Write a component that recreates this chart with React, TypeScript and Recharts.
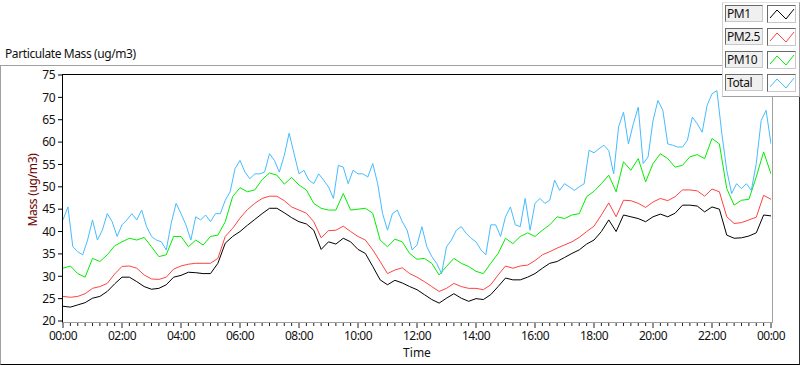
import React from "react";
import { LineChart, Line, XAxis, YAxis } from "recharts";

// 15 minute samples, 00:00 .. 24:00
const pm1 = [
  23.3, 23.1, 23.6, 24.1, 25.1, 25.5, 26.6, 28.3, 29.8, 29.8, 28.8, 27.7, 27.1,
  27.3, 28.1, 29.8, 30.2, 30.9, 30.8, 30.6, 30.6, 32.9, 37.4, 38.9, 40.0,
  41.4, 42.7, 44.0, 45.2, 45.2, 44.2, 43.1, 42.2, 41.7, 40.3, 36.0, 37.7,
  37.2, 38.5, 37.7, 36.0, 35.1, 32.2, 29.2, 28.1, 29.1, 28.5, 27.7, 27.0,
  25.9, 24.8, 24.0, 25.1, 26.1, 25.1, 24.4, 25.0, 24.8, 25.9, 27.7, 29.6,
  29.2, 29.2, 29.8, 30.6, 31.8, 32.9, 33.3, 34.2, 35.1, 35.9, 37.2, 38.1,
  40.0, 42.6, 40.0, 43.7, 43.3, 42.9, 42.2, 43.3, 43.9, 43.3, 44.1, 45.9,
  45.9, 45.7, 44.4, 45.5, 45.0, 39.2, 38.5, 38.6, 39.0, 39.7, 43.7, 43.5,
];

const pm25 = [
  25.5, 25.3, 25.5, 26.1, 27.3, 27.7, 28.4, 30.5, 32.2, 32.3, 31.8, 30.3, 29.4,
  29.3, 29.8, 31.6, 32.3, 32.7, 32.9, 32.9, 32.9, 34.0, 38.9, 40.7, 43.0,
  44.9, 46.3, 47.4, 47.9, 47.9, 46.9, 45.5, 44.8, 44.1, 42.2, 38.6, 40.2,
  40.3, 41.2, 40.0, 38.9, 38.1, 35.9, 33.3, 30.6, 31.4, 31.9, 30.6, 29.8,
  28.8, 27.7, 26.6, 27.3, 28.4, 27.7, 27.3, 27.3, 27.0, 28.1, 30.3, 32.3,
  31.8, 32.3, 32.5, 33.5, 34.8, 35.5, 36.3, 37.0, 37.7, 38.7, 40.0, 41.2,
  43.7, 46.4, 43.3, 47.0, 46.9, 46.3, 45.4, 46.6, 47.4, 46.9, 47.8, 49.3,
  49.3, 49.1, 47.9, 49.5, 48.9, 43.3, 41.8, 42.0, 42.6, 43.2, 48.1, 47.2,
];

const pm10 = [
  31.8, 32.3, 30.6, 29.8, 34.0, 33.3, 34.8, 36.8, 37.7, 38.5, 38.1, 38.7, 36.6,
  34.4, 34.8, 38.9, 38.9, 36.6, 38.1, 37.0, 38.9, 39.2, 42.2, 47.8, 49.8,
  48.9, 49.3, 51.6, 53.1, 52.6, 50.6, 52.1, 50.4, 49.3, 46.3, 45.2, 44.8,
  44.8, 48.5, 44.8, 45.0, 45.2, 44.1, 38.1, 36.6, 38.3, 37.7, 35.1, 33.8,
  34.0, 32.9, 30.3, 32.2, 34.0, 32.9, 32.2, 31.1, 30.6, 32.9, 35.1, 38.5,
  37.3, 38.9, 39.7, 38.9, 40.3, 41.5, 43.3, 42.9, 43.7, 44.0, 47.8, 49.0,
  50.7, 52.6, 48.9, 55.6, 53.7, 56.3, 51.1, 55.2, 57.4, 56.3, 54.4, 54.8,
  56.7, 57.2, 56.3, 60.8, 59.6, 49.6, 45.9, 47.0, 47.2, 52.2, 57.8, 52.9,
];

// 10 minute samples, 00:00 .. 24:00
const total = [
  42.6, 45.5, 36.6, 35.5, 34.8, 38.1, 42.6, 38.1, 40.3, 44.0, 42.2, 38.9,
  41.5, 42.6, 44.0, 42.6, 44.8, 41.1, 38.9, 38.1, 37.7, 35.9, 41.8, 46.3,
  44.0, 41.5, 38.1, 43.3, 42.6, 43.7, 42.2, 44.0, 44.0, 47.0, 48.9, 54.1, 55.9,
  53.3, 51.8, 52.9, 52.9, 53.3, 57.4, 55.9, 53.3, 57.0, 62.0, 57.4, 52.9,
  53.7, 51.5, 50.7, 52.9, 51.5, 50.0, 47.4, 54.8, 54.4, 50.7, 53.7, 52.9,
  52.9, 52.2, 55.2, 50.7, 44.0, 40.3, 44.0, 44.8, 42.2, 40.3, 35.9, 37.0,
  41.1, 36.6, 34.4, 32.9, 30.6, 36.6, 38.1, 40.3, 41.1, 39.6, 38.5, 37.7,
  35.9, 34.8, 41.5, 41.5, 38.9, 43.3, 45.5, 41.5, 41.1, 47.4, 40.3, 46.3,
  47.4, 46.3, 47.0, 51.5, 49.2, 50.7, 50.0, 49.2, 50.0, 50.7, 58.2, 57.6,
  58.5, 59.3, 58.1, 52.9, 63.4, 66.7, 59.6, 64.1, 67.8, 55.2, 56.7, 64.8,
  69.3, 67.1, 59.6, 59.3, 58.9, 58.9, 60.4, 65.6, 64.1, 62.2, 68.2, 70.8,
  71.5, 61.9, 53.7, 48.5, 50.7, 49.6, 50.7, 49.2, 55.2, 64.8, 67.1, 59.6,
];

const majorHours = [0, 2, 4, 6, 8, 10, 12, 14, 16, 18, 20, 22, 24];
const timeLabels = [
  "00:00", "02:00", "04:00", "06:00", "08:00", "10:00", "12:00",
  "14:00", "16:00", "18:00", "20:00", "22:00", "00:00",
];
const massTicks = [20, 25, 30, 35, 40, 45, 50, 55, 60, 65, 70, 75];

const seriesNames = ["PM1", "PM2.5", "PM10", "Total"];
const seriesColors = ["#000000", "#ff4242", "#00ee00", "#45bcff"];

const rows = pm1.map((v, i) => ({
  t: i * 0.25,
  pm1: v,
  pm25: pm25[i],
  pm10: pm10[i],
}));
const totalRows = total.map((v, i) => ({ t: i / 6, total: v }));
const quarterTicks = rows.map((r) => r.t);

const font = "'Noto Sans', sans-serif";

const TimeTick = (props: any) => {
  const { x, y, payload } = props;
  const idx = majorHours.indexOf(payload.value);
  const major = idx >= 0;
  return (
    <g>
      <line x1={x} x2={x} y1={y + 1} y2={y + (major ? 7 : 5)} stroke="#222" />
      {major && (
        <text
          x={x}
          y={y + 19}
          textAnchor="middle"
          fontSize={12}
          fontFamily={font}
          letterSpacing={-0.5}
          fill="#111"
        >
          {timeLabels[idx]}
        </text>
      )}
    </g>
  );
};

const LegendPanel = () => (
  <div
    style={{
      position: "absolute",
      left: 722,
      top: 2,
      width: 78,
      height: 95,
      boxSizing: "border-box",
      background: "#fff",
      borderTop: "1px solid #e4e4e4",
      borderLeft: "1px solid #d0d0d0",
      borderBottom: "1px solid #a0a0a0",
      borderRight: "1px solid #a0a0a0",
    }}
  >
    {seriesNames.map((name, i) => (
      <React.Fragment key={name}>
        <div
          style={{
            position: "absolute",
            left: 2,
            top: 2 + i * 23,
            width: 38,
            height: 17,
            boxSizing: "border-box",
            background: "#f0f0f0",
            borderTop: "1px solid #6a6a6a",
            borderLeft: "1px solid #6a6a6a",
            borderBottom: "1px solid #c8c8c8",
            borderRight: "1px solid #c8c8c8",
            fontFamily: font,
            fontSize: 12,
            letterSpacing: -0.4,
            lineHeight: "15px",
            paddingLeft: 1,
            color: "#111",
            whiteSpace: "nowrap",
            overflow: "hidden",
          }}
        >
          {name}
        </div>
        <div
          style={{
            position: "absolute",
            left: 44,
            top: 2 + i * 23,
            width: 29,
            height: 18,
            boxSizing: "border-box",
            background: "#fff",
            borderTop: "1px solid #6a6a6a",
            borderLeft: "1px solid #6a6a6a",
            borderBottom: "1px solid #c8c8c8",
            borderRight: "1px solid #c8c8c8",
          }}
        >
          <svg width={27} height={16} style={{ display: "block" }}>
            <polyline
              points="2,12 9,4 18,13 26,3"
              fill="none"
              stroke={seriesColors[i]}
              strokeWidth={1}
            />
          </svg>
        </div>
      </React.Fragment>
    ))}
  </div>
);

export default function App() {
  return (
    <div
      style={{
        position: "absolute",
        left: 0,
        top: 0,
        width: 800,
        height: 365,
        background: "#fff",
        fontFamily: font,
      }}
    >
      <div
        style={{
          position: "absolute",
          left: 5,
          top: 46,
          fontSize: 12,
          letterSpacing: -0.4,
          lineHeight: "16px",
          color: "#111",
          whiteSpace: "nowrap",
        }}
      >
        Particulate Mass (ug/m3)
      </div>
      {/* outer frame */}
      <div
        style={{
          position: "absolute",
          left: 0,
          top: 65,
          width: 800,
          height: 300,
          boxSizing: "border-box",
          borderTop: "1px solid #a0a0a0",
          borderLeft: "1px solid #a0a0a0",
          borderRight: "1px solid #303030",
          borderBottom: "1px solid #000",
        }}
      />
      <div style={{ position: "absolute", left: 0, top: 0 }}>
        <LineChart
          width={800}
          height={365}
          data={rows}
          margin={{ top: 75, right: 29, left: 3, bottom: 0 }}
        >
          <XAxis
            type="number"
            dataKey="t"
            domain={[0, 24]}
            ticks={quarterTicks}
            interval={0}
            allowDataOverflow
            axisLine={false}
            tickLine={false}
            tickSize={0}
            tickMargin={0}
            height={44}
            tick={<TimeTick />}
          />
          <YAxis
            type="number"
            domain={[20, 75]}
            ticks={massTicks}
            interval={0}
            allowDataOverflow
            width={60}
            axisLine={false}
            tickSize={5}
            tickMargin={3}
            tickLine={{ stroke: "#000" }}
            tick={{ fill: "#111", fontSize: 12, fontFamily: font, letterSpacing: -0.5 }}
          />
          <Line
            dataKey="pm1"
            type="linear"
            stroke={seriesColors[0]}
            strokeWidth={1}
            dot={false}
            isAnimationActive={false}
          />
          <Line
            dataKey="pm25"
            type="linear"
            stroke={seriesColors[1]}
            strokeWidth={1}
            dot={false}
            isAnimationActive={false}
          />
          <Line
            dataKey="pm10"
            type="linear"
            stroke={seriesColors[2]}
            strokeWidth={1}
            dot={false}
            isAnimationActive={false}
          />
          <Line
            data={totalRows}
            dataKey="total"
            type="linear"
            stroke={seriesColors[3]}
            strokeWidth={1}
            dot={false}
            isAnimationActive={false}
          />
        </LineChart>
      </div>
      {/* plot frame */}
      <div
        style={{
          position: "absolute",
          left: 62,
          top: 74,
          width: 711,
          height: 249,
          boxSizing: "border-box",
          borderTop: "1px solid #000",
          borderLeft: "1px solid #000",
          borderRight: "1px solid #a0a0a0",
          borderBottom: "1px solid #a0a0a0",
          pointerEvents: "none",
        }}
      />
      <svg
        width={60}
        height={365}
        style={{ position: "absolute", left: 0, top: 0, pointerEvents: "none" }}
      >
        <text
          x={32}
          y={190}
          transform="rotate(-90 32 190)"
          textAnchor="middle"
          dominantBaseline="central"
          fontSize={12}
          fontFamily={font}
          letterSpacing={-0.3}
          fill="#6b0000"
        >
          Mass (ug/m3)
        </text>
      </svg>
      <div
        style={{
          position: "absolute",
          left: 317,
          width: 200,
          top: 347,
          textAlign: "center",
          fontSize: 12,
          lineHeight: "12px",
          color: "#111",
        }}
      >
        Time
      </div>
      <LegendPanel />
    </div>
  );
}
